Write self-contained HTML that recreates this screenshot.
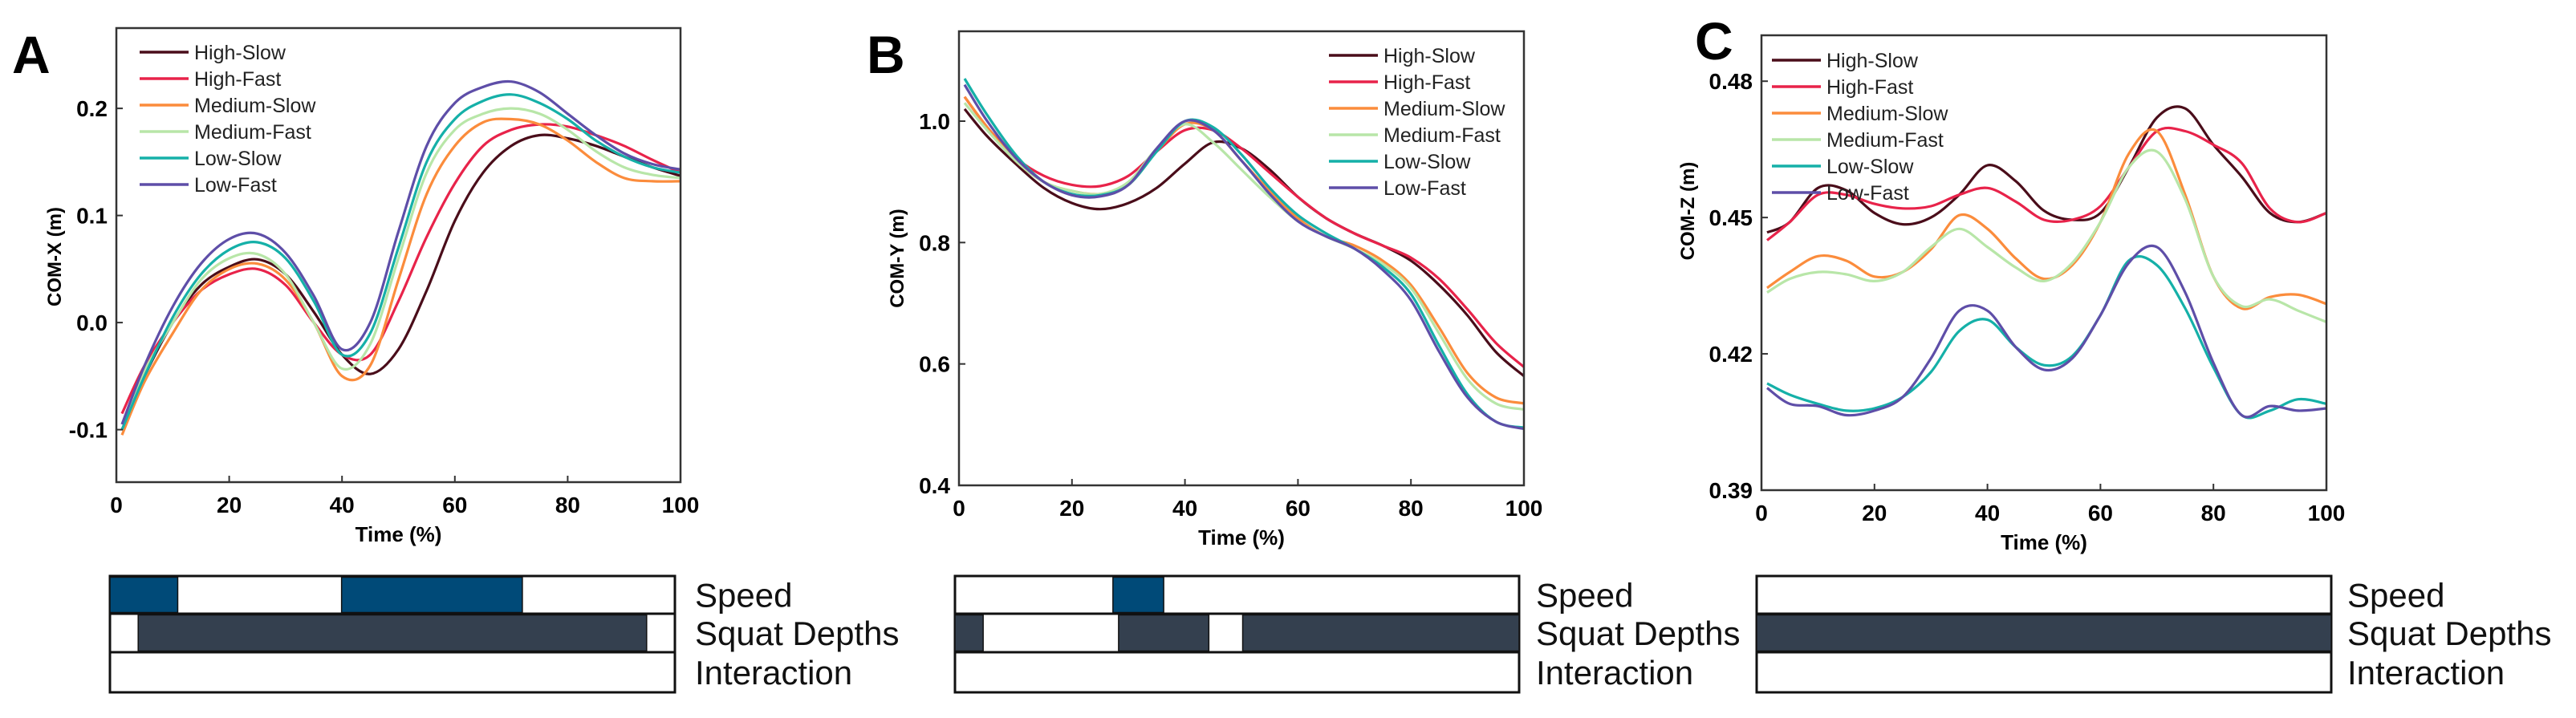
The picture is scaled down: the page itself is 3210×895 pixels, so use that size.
<!DOCTYPE html>
<html><head><meta charset="utf-8"><style>
body{margin:0;background:#fff;width:3210px;height:895px;overflow:hidden}
svg{display:block;font-family:"Liberation Sans",Arial,sans-serif}
</style></head><body>
<svg id="fig" width="3210" height="895" xmlns="http://www.w3.org/2000/svg"></svg>
<script>
const timePct=[1,5,10,15,20,25,30,35,40,45,50,55,60,65,70,75,80,85,90,95,100];
const seriesNames=["High-Slow","High-Fast","Medium-Slow","Medium-Fast","Low-Slow","Low-Fast"];
const seriesColors=["#4a0d1a","#e8234a","#fb8c3c","#b8e6a8","#15b0a8","#5e4ea8"];
const xTicks=[0,20,40,60,80,100];
const comX_HS=[-0.10,-0.05,0.0,0.035,0.052,0.059,0.045,0.01,-0.03,-0.048,-0.025,0.03,0.095,0.14,0.165,0.175,0.172,0.165,0.155,0.145,0.137];
const comX_HF=[-0.085,-0.04,0.0,0.03,0.045,0.05,0.035,0.0,-0.03,-0.03,0.02,0.08,0.13,0.165,0.18,0.185,0.183,0.175,0.165,0.152,0.14];
const comX_MS=[-0.105,-0.055,-0.01,0.03,0.05,0.055,0.04,0.0,-0.05,-0.04,0.04,0.12,0.165,0.187,0.19,0.185,0.17,0.15,0.135,0.132,0.132];
const comX_MF=[-0.095,-0.045,0.0,0.04,0.06,0.064,0.045,0.0,-0.043,-0.02,0.06,0.14,0.18,0.195,0.2,0.195,0.18,0.16,0.145,0.138,0.135];
const comX_LS=[-0.1,-0.05,0.005,0.045,0.068,0.075,0.06,0.02,-0.03,-0.01,0.07,0.15,0.19,0.207,0.213,0.205,0.19,0.17,0.155,0.145,0.14];
const comX_LF=[-0.095,-0.04,0.015,0.055,0.078,0.083,0.065,0.025,-0.025,0.0,0.085,0.165,0.205,0.22,0.225,0.215,0.195,0.175,0.158,0.148,0.143];
const comY_HS=[1.02,0.975,0.93,0.89,0.865,0.855,0.865,0.89,0.93,0.965,0.955,0.92,0.875,0.84,0.815,0.795,0.77,0.73,0.68,0.62,0.58];
const comY_HF=[1.04,0.99,0.94,0.91,0.895,0.893,0.91,0.95,0.985,0.985,0.955,0.915,0.875,0.84,0.815,0.795,0.775,0.74,0.69,0.635,0.595];
const comY_MS=[1.04,0.99,0.935,0.9,0.885,0.88,0.895,0.95,0.995,0.985,0.935,0.885,0.84,0.81,0.795,0.77,0.73,0.66,0.585,0.545,0.535];
const comY_MF=[1.03,0.985,0.935,0.9,0.885,0.88,0.9,0.955,0.995,0.965,0.92,0.875,0.835,0.81,0.79,0.765,0.725,0.65,0.575,0.535,0.525];
const comY_LS=[1.07,1.01,0.945,0.9,0.88,0.878,0.895,0.95,1.0,0.99,0.945,0.89,0.845,0.815,0.79,0.76,0.715,0.63,0.55,0.505,0.495];
const comY_LF=[1.06,1.0,0.94,0.9,0.878,0.876,0.895,0.955,1.0,0.985,0.935,0.88,0.835,0.81,0.79,0.755,0.705,0.62,0.545,0.505,0.493];
const comZ_HS=[0.4467,0.449,0.4565,0.456,0.451,0.4485,0.450,0.455,0.4615,0.458,0.4515,0.4495,0.451,0.461,0.472,0.474,0.466,0.459,0.451,0.449,0.451];
const comZ_HF=[0.445,0.449,0.455,0.455,0.453,0.452,0.4525,0.455,0.4565,0.4535,0.4495,0.4495,0.4525,0.461,0.469,0.469,0.466,0.462,0.452,0.449,0.451];
const comZ_MS=[0.4345,0.438,0.4415,0.4405,0.437,0.438,0.443,0.4505,0.4475,0.441,0.4365,0.4395,0.449,0.464,0.469,0.455,0.437,0.43,0.4325,0.433,0.431];
const comZ_MF=[0.4335,0.4365,0.438,0.4375,0.436,0.438,0.4435,0.4475,0.4435,0.439,0.436,0.440,0.449,0.461,0.4645,0.454,0.437,0.4305,0.432,0.4295,0.427];
const comZ_LS=[0.4135,0.411,0.409,0.4075,0.408,0.4105,0.416,0.425,0.4275,0.4215,0.4175,0.4195,0.4285,0.4405,0.4395,0.43,0.417,0.4065,0.4075,0.41,0.409];
const comZ_LF=[0.4125,0.409,0.4085,0.4065,0.4075,0.4105,0.419,0.4295,0.4295,0.4215,0.4165,0.419,0.4285,0.440,0.4435,0.4335,0.418,0.4065,0.4085,0.4075,0.408];
const yTicksA=[-0.1,0.0,0.1,0.2];const yLabelsA=["-0.1","0.0","0.1","0.2"];
const yTicksB=[0.4,0.6,0.8,1.0];const yLabelsB=["0.4","0.6","0.8","1.0"];
const yTicksC=[0.39,0.42,0.45,0.48];const yLabelsC=["0.39","0.42","0.45","0.48"];
const speedA=[[0,12],[41,73]];const depthA=[[5,95]];const interA=[];
const speedB=[[28,37]];const depthB=[[0,5],[29,45],[51,100]];const interB=[];
const speedC=[];const depthC=[[0,100]];const interC=[];

const NS="http://www.w3.org/2000/svg";
const svg=document.getElementById('fig');
function mk(tag,attrs,parent){const e=document.createElementNS(NS,tag);for(const k in attrs)e.setAttribute(k,attrs[k]);(parent||svg).appendChild(e);return e;}
function smooth(pts){let d="M"+pts[0][0].toFixed(1)+","+pts[0][1].toFixed(1);
 for(let i=0;i<pts.length-1;i++){const p0=pts[i-1]||pts[i],p1=pts[i],p2=pts[i+1],p3=pts[i+2]||p2;
 const c1=[p1[0]+(p2[0]-p0[0])/6,p1[1]+(p2[1]-p0[1])/6],c2=[p2[0]-(p3[0]-p1[0])/6,p2[1]-(p3[1]-p1[1])/6];
 d+="C"+c1[0].toFixed(1)+","+c1[1].toFixed(1)+" "+c2[0].toFixed(1)+","+c2[1].toFixed(1)+" "+p2[0].toFixed(1)+","+p2[1].toFixed(1);}return d;}

function panel(cfg){
 const g=mk('g',{});
 
 
 const L=cfg.x0,R=cfg.x1,T=cfg.y0,B=cfg.y1;
 const sx=v=>L+(v/100)*(R-L), sy=v=>B-(v-cfg.ymin)/(cfg.ymax-cfg.ymin)*(B-T);
 const lt=mk('text',{x:cfg.lx,y:cfg.lby,'font-size':66,'font-weight':'bold',fill:'#000'},g);lt.textContent=cfg.key.toUpperCase();
 
 cfg.series.forEach((s,i)=>{const p=mk('path',{d:smooth(timePct.map((t,j)=>[sx(t),sy(s[j])])),fill:'none',stroke:seriesColors[i],'stroke-width':3.2},g);
  });
 const ax=mk('rect',{x:L,y:T,width:R-L,height:B-T,fill:'none',stroke:'#333','stroke-width':2.5},g);
 
 xTicks.forEach(v=>{mk('line',{x1:sx(v),x2:sx(v),y1:B,y2:B-8,stroke:'#333','stroke-width':2},g);
  const t=mk('text',{x:sx(v),y:B+38,'font-size':28,'font-weight':'bold','text-anchor':'middle'},g);t.textContent=v;
  });
 cfg.yt.forEach((v,i)=>{mk('line',{x1:L,x2:L+8,y1:sy(v),y2:sy(v),stroke:'#333','stroke-width':2},g);
  const t=mk('text',{x:L-11,y:sy(v)+10,'font-size':28,'font-weight':'bold','text-anchor':'end'},g);t.textContent=cfg.yl[i];
  });
 const xt=mk('text',{x:(L+R)/2,y:B+74,'font-size':26,'font-weight':'bold','text-anchor':'middle'},g);xt.textContent="Time (%)";
 
 const yt=mk('text',{x:0,y:0,'font-size':24,'font-weight':'bold','text-anchor':'middle',transform:`translate(${cfg.ytx},${cfg.yty}) rotate(-90)`},g);yt.textContent=cfg.ytitle;
 
 seriesNames.forEach((n,i)=>{const y=cfg.legy+33*i;
  const le=mk('g',{},g);
  mk('line',{x1:cfg.legx,x2:cfg.legx+61,y1:y,y2:y,stroke:seriesColors[i],'stroke-width':3.5},le);
  const t=mk('text',{x:cfg.legx+68,y:y+9,'font-size':25,fill:'#222'},le);t.textContent=n;});
 const bx0=cfg.bx0,bx1=cfg.bx1,rows=[718,765,813,863];
 const bsx=v=>bx0+(v/100)*(bx1-bx0);
 const rowsData=[[cfg.speed,'#004a78','Speed'],[cfg.depth,'#34404f','Squat Depths'],[cfg.inter,'#34404f','Interaction']];
 rowsData.forEach((r,i)=>{const rg=mk('g',{},g);
  mk('rect',{x:bx0,y:rows[i],width:bx1-bx0,height:rows[i+1]-rows[i],fill:'#fff',stroke:'#111','stroke-width':3},rg);
  r[0].forEach(seg=>{mk('rect',{x:bsx(seg[0]),y:rows[i]+1.5,width:bsx(seg[1])-bsx(seg[0]),height:rows[i+1]-rows[i]-3,fill:r[1],stroke:'#111','stroke-width':1.5},rg);});
  const t=mk('text',{x:cfg.blx,y:(rows[i]+rows[i+1])/2+15,'font-size':42,fill:'#111'},rg);t.textContent=r[2];});
}
panel({key:'a',x0:145,x1:848,y0:35,y1:601,ymin:-0.149,ymax:0.275,yt:yTicksA,yl:yLabelsA,ytitle:"COM-X (m)",ytx:76,yty:320,lx:15,lby:91,
 legx:174,legy:65,series:[comX_HS,comX_HF,comX_MS,comX_MF,comX_LS,comX_LF],bx0:137,bx1:841,blx:866,speed:speedA,depth:depthA,inter:interA});
panel({key:'b',x0:1195,x1:1899,y0:39,y1:605,ymin:0.4,ymax:1.148,yt:yTicksB,yl:yLabelsB,ytitle:"COM-Y (m)",ytx:1126,yty:322,lx:1080,lby:91,
 legx:1656,legy:69,series:[comY_HS,comY_HF,comY_MS,comY_MF,comY_LS,comY_LF],bx0:1190,bx1:1893,blx:1914,speed:speedB,depth:depthB,inter:interB});
panel({key:'c',x0:2195,x1:2899,y0:44,y1:611,ymin:0.39,ymax:0.4901,yt:yTicksC,yl:yLabelsC,ytitle:"COM-Z (m)",ytx:2111,yty:263,lx:2112,lby:74,
 legx:2208,legy:75,series:[comZ_HS,comZ_HF,comZ_MS,comZ_MF,comZ_LS,comZ_LF],bx0:2189,bx1:2905,blx:2925,speed:speedC,depth:depthC,inter:interC});
</script>
</body></html>
